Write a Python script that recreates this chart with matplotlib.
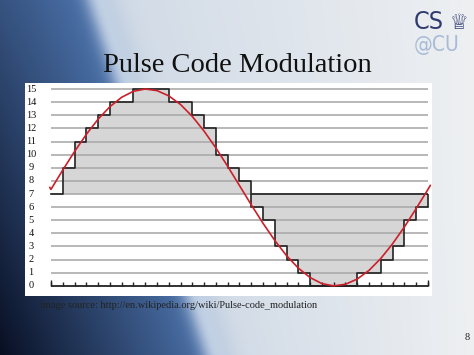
import numpy as np
import matplotlib.pyplot as plt
from matplotlib.patches import Rectangle

W, H = 474, 355

# quantisation levels shown on the left
levels = list(range(16))
# 4-bit code held over each sample interval
codes = [7, 9, 11, 12, 13, 14, 14, 15, 15, 15, 14, 14, 13, 12, 10, 9,
         8, 6, 5, 3, 2, 1, 0, 0, 0, 0, 1, 1, 2, 3, 5, 6]
# analog signal (red), read at each sample position
signal_t = [-0.1, 0, 1, 2, 3, 4, 5, 6, 7, 8, 9, 10, 11, 12, 13, 14, 15, 16,
            17, 18, 19, 20, 21, 22, 23, 24, 25, 26, 27, 28, 29, 30, 31, 32, 32.2]
signal_v = [7.5, 7.35, 8.82, 10.23, 11.54, 12.70, 13.65, 14.37, 14.83, 15.0,
            14.88, 14.48, 13.82, 12.91, 11.79, 10.51, 9.11, 7.65, 6.18, 4.77,
            3.46, 2.30, 1.35, 0.63, 0.17, 0.0, 0.12, 0.52, 1.18, 2.09, 3.21,
            4.49, 5.89, 7.35, 7.65]

title = "Pulse Code Modulation"
source = "image source: http://en.wikipedia.org/wiki/Pulse-code_modulation"
page = "8"

serif = "Liberation Serif"

fig = plt.figure(figsize=(W / 100, H / 100), dpi=100)

# slide background: blue on the left, light streak, grey on the right
yy, xx = np.mgrid[0:H, 0:W].astype(float)
xb = 100 + 0.33 * yy
d = xx - xb
t = np.clip(1 - xx / xb, 0, 1)
k = np.clip(0.1 + 0.3 * t + 0.6 * t * yy / H, 0, 1)[..., None]
light_blue = np.array([85, 128, 190]) / 255
dark = np.array([8, 15, 35]) / 255
blue = light_blue * (1 - k) + dark * k
g = np.clip((xx - xb) / (W - xb), 0, 1)[..., None]
grey = np.array([208, 218, 230]) / 255 * (1 - g) + np.array([238, 240, 242]) / 255 * g
w = (1 / (1 + np.exp(d / 7)))[..., None]
bg = blue * w + grey * (1 - w)
s = (0.6 * np.exp(-((d + 2) / 13) ** 2))[..., None]
bg = bg * (1 - s) + np.array([228, 237, 246]) / 255 * s

bgax = fig.add_axes([0, 0, 1, 1])
bgax.imshow(bg, aspect="auto")
bgax.axis("off")
bgax.set_zorder(-1)

fig.add_artist(Rectangle((25 / W, 1 - 296 / H), 407 / W, 213 / H,
                         transform=fig.transFigure, facecolor="white",
                         edgecolor="none", zorder=0.5))

ax = fig.add_axes([0.1025, 0.1837, 0.8078, 0.5766])
ax.set_zorder(1)
ax.patch.set_alpha(0)
ax.set_xlim(-0.2, 32.3)
ax.set_ylim(-0.3, 15.3)
ax.axis("off")

x = np.arange(len(codes) + 1)
y = codes + [codes[-1]]
ax.fill_between(x, 7, y, step="post", color="#d6d6d6", lw=0, zorder=1)
ax.hlines(levels[1:], 0, len(codes), color="#ababab", lw=1.2, zorder=2)
ax.hlines(7, 17, len(codes), color="#222222", lw=1.2, zorder=3)
ax.step(x, y, where="post", color="#222222", lw=1.2, zorder=3)
ax.vlines(len(codes), codes[-1], 7, color="#222222", lw=1.2, zorder=3)

# sample axis
ax.hlines(0, 0, len(codes), color="#222222", lw=1.3, zorder=3)
ax.vlines(x, 0, 0.3, color="#222222", lw=1.0, zorder=3)
ax.vlines([0, len(codes)], 0, 0.45, color="#222222", lw=1.0, zorder=3)

ax.plot(signal_t, signal_v, color="#cc1f2a", lw=1.2, zorder=4)

for lv in levels:
    ax.text(-0.046, lv, str(lv), transform=ax.get_yaxis_transform(),
            ha="center", va="center", family=serif, size=7.5, color="#111111")

fig.text(237 / W, 1 - 72 / H, title, ha="center", va="baseline",
         family=serif, size=20.5, color="#111111")
fig.text(40 / W, 1 - 305 / H, source, ha="left", va="center",
         family=serif, size=7.5, color="#222222")
fig.text(467 / W, 1 - 337 / H, page, ha="center", va="center",
         family=serif, size=7.5, color="#222222")

# logo
fig.text(414 / W, 1 - 29 / H, "CS", ha="left", va="baseline",
         family="DejaVu Sans", stretch="condensed", size=18,
         color="#2f3a6e")
fig.text(459 / W, 1 - 29 / H, "\u2655", ha="center", va="baseline",
         family="DejaVu Sans", size=15, color="#2f3a6e")
fig.text(414 / W, 1 - 51 / H, "@CU", ha="left", va="baseline",
         family="DejaVu Sans", stretch="condensed", size=15,
         color="#a9bbd6")

fig.savefig("out.png", dpi=100)
